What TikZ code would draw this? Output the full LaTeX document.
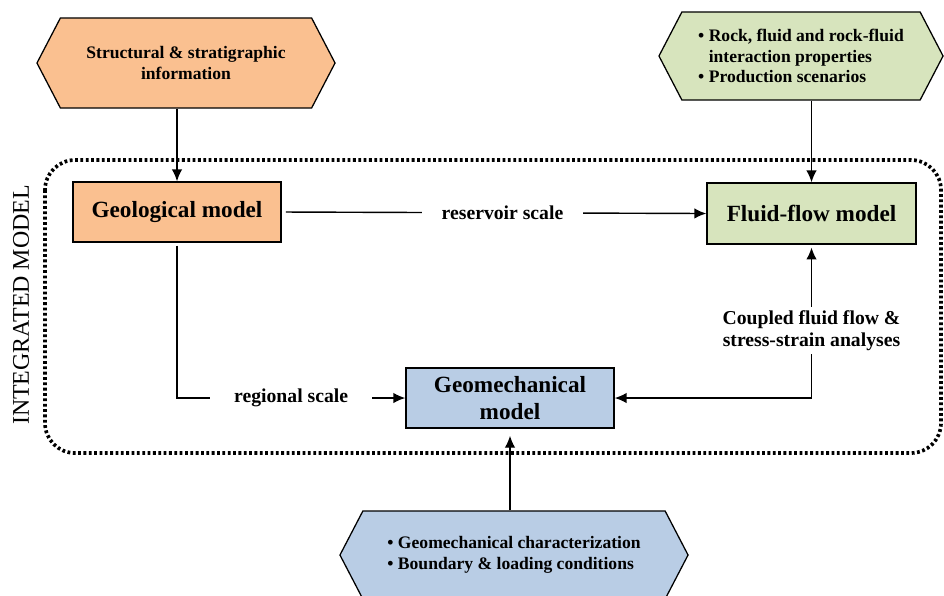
\documentclass[tikz,border=0pt]{standalone}
\usepackage{fontspec}
\setmainfont{Liberation Serif}
\usetikzlibrary{positioning,shapes.symbols,arrows.meta}

\definecolor{geoorange}{HTML}{FAC090}
\definecolor{flowgreen}{HTML}{D7E4BD}
\definecolor{mechblue}{HTML}{B9CDE5}

\tikzset{
  model/.style={draw, line width=1pt, minimum width=5.2cm, minimum height=1.5cm,
    font=\fontsize{16.5}{19}\selectfont\bfseries, align=center},
  input/.style={signal, signal to=west and east, signal pointer angle=125, draw,
    line width=0.9pt, minimum height=2.2cm, font=\fontsize{12.5}{14.5}\selectfont\bfseries, align=left},
  scalelabel/.style={fill=white, font=\fontsize{14}{16}\selectfont\bfseries, inner xsep=14pt}
}

\begin{document}
\begin{tikzpicture}[x=0.025cm, y=-0.025cm, >={Latex[length=8.5pt,width=7.5pt]}, line width=1pt]
\useasboundingbox (0,0) rectangle (944,595);
% integrated model frame
\draw[line width=2.6pt, dash pattern=on 2pt off 1.8pt, rounded corners=0.75cm] (45,160) rectangle (941,453);
\node[rotate=90, font=\fontsize{17}{19}\selectfont] (integ) at (21,305) {INTEGRATED MODEL};

% models
\node[model, fill=geoorange] (geo) at (177,212) {Geological model};
\node[model, fill=flowgreen, minimum width=5.225cm, minimum height=1.525cm] (flow) at (811.5,213.5) {Fluid-flow model};
\node[model, fill=mechblue] (mech) at (510,398) {Geomechanical\\model};

% inputs
\node[input, fill=geoorange, minimum width=7.45cm, minimum height=2.25cm, align=center] (info) at (186,63)
  {Structural \& stratigraphic\\information};
\node[input, fill=flowgreen, minimum width=7.1cm] (props) at (801,56)
  {\textbullet~Rock, fluid and rock-fluid\\\phantom{\textbullet~}interaction properties\\\textbullet~Production scenarios};
\node[input, fill=mechblue, minimum width=8.7cm] (charac) at (514,555)
  {\textbullet~Geomechanical characterization\\\textbullet~Boundary \& loading conditions};

% connectors
\draw[->] (info.south -| geo.north) -- (geo.north);
\draw[->] (props.south -| flow.north) -- (flow.north);
\draw[->, shorten >=5pt] (charac.north -| mech.south) -- (mech.south);
\draw[->, shorten <=3pt] (geo.east) -- node[scalelabel, pos=0.52] (reslabel) {reservoir scale} (flow.west);
\draw[->, shorten <=2pt] (geo.south) |- node[scalelabel, pos=0.75, inner xsep=17pt] (reglabel) {regional scale} (mech.west);
\draw[<->, shorten >=2pt] (mech.east) -| node[scalelabel, pos=0.72, align=center, inner xsep=2pt, inner ysep=2pt] (couplabel)
  {Coupled fluid flow \&\\stress-strain analyses} (flow.south);
\end{tikzpicture}
\end{document}
